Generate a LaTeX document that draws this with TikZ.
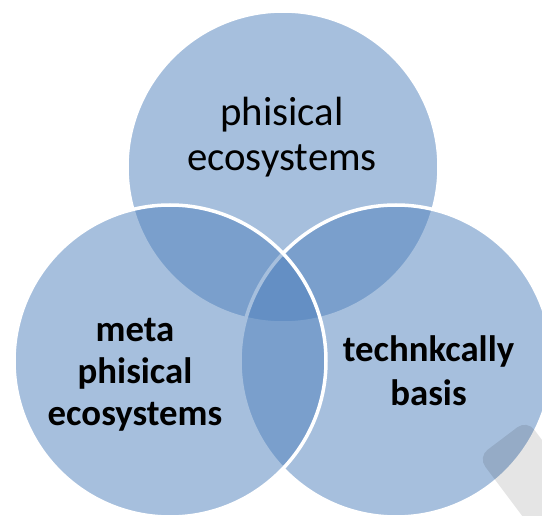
\documentclass[tikz,border=0pt]{standalone}
\usepackage{fontspec}
\setmainfont{Carlito}
\definecolor{accent}{HTML}{4F81BD}
\begin{document}
\begin{tikzpicture}[x=1pt,y=-1pt,
  venn/.style={fill=accent,fill opacity=0.5,draw=white,draw opacity=1,line width=3.5pt},
  toplabel/.style={align=center,text=black,font=\fontsize{40.8}{45}\selectfont},
  boldlabel/.style={align=center,text=black,font=\fontsize{36.8}{42}\selectfont\bfseries}]
\useasboundingbox (0,0) rectangle (542,516);
\clip (0,0) rectangle (542,516);
\fill[white] (0,0) rectangle (542,516);
\path[venn] (283,167) circle[radius=156pt];
\path[venn] (396,361) circle[radius=156pt];
\path[venn] (170,361) circle[radius=156pt];
\fill[black,opacity=0.1,rounded corners=12pt] (478,457) -- (527,420) -- (617,540) -- (568,577) -- cycle;
\node[toplabel] (top) at (282,137) {phisical\\ecosystems};
\node[boldlabel] (left) at (135,375) {meta\\phisical\\ecosystems};
\node[boldlabel,font=\fontsize{36.8}{44}\selectfont\bfseries] (right) at (428.5,371) {technkcally\\basis};
\end{tikzpicture}
\end{document}
